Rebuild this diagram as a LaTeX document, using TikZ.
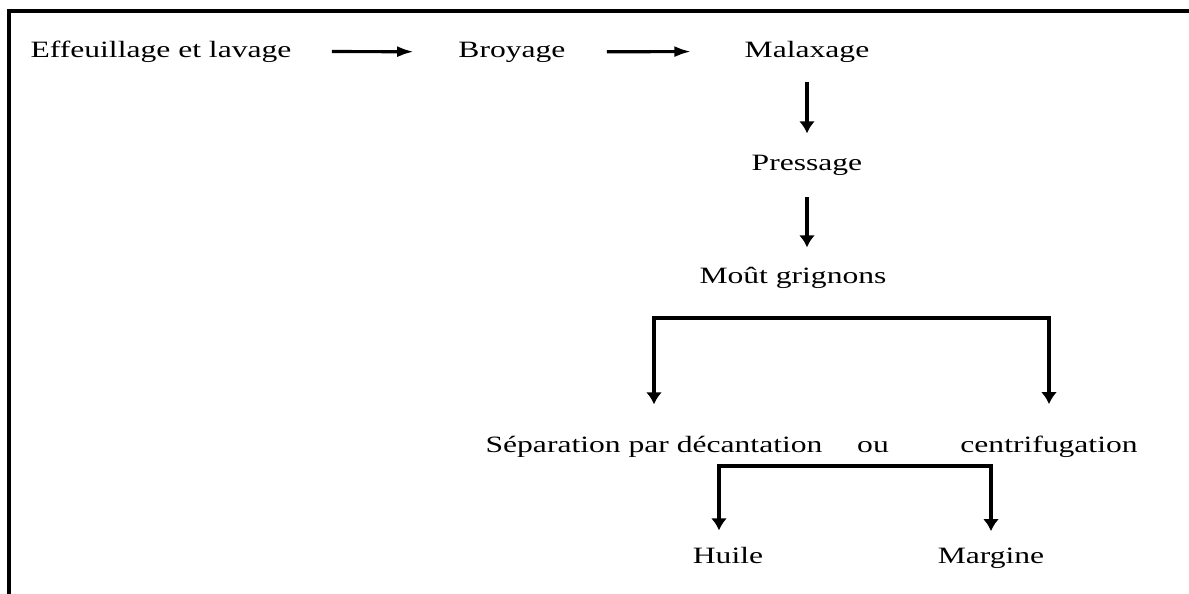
\documentclass[tikz,border=0pt]{standalone}
\usepackage{fontspec}
\setmainfont{Liberation Serif}[FakeStretch=1.35]
\usetikzlibrary{arrows.meta}

\begin{document}
\begin{tikzpicture}[x=0.5pt,y=-0.5pt,
    stage/.style={inner sep=0pt,anchor=base,font=\fontsize{11.7}{14}\selectfont},
    harr/.style={line width=1.6pt,-{Latex[length=8.5pt,width=5.5pt]}},
    varr/.style={line width=1.6pt,-{Latex[length=6pt,width=8pt]}},
    frame/.style={line width=1.7pt}]
    \useasboundingbox (0,0) rectangle (1189,594);
      \draw[frame] (9,594) -- (9,11) -- (1189,11);
      \node[stage] (eff) at (161,57) {Effeuillage et lavage};
      \node[stage] (broy) at (512,57) {Broyage};
      \node[stage] (mal) at (807,57) {Malaxage};
      \node[stage] (press) at (807,170) {Pressage};
      \node[stage] (mout) at (793,283) {Moût grignons};
      \node[stage] (sep) at (654,452) {Séparation par décantation};
      \node[stage] (ou) at (873,452) {ou};
      \node[stage] (cent) at (1049,452) {centrifugation};
      \node[stage] (huile) at (728,563) {Huile};
      \node[stage] (marg) at (991,563) {Margine};
      \coordinate (split1) at (851,318);
      \coordinate (split2) at (854,466);
      \draw[harr,shorten <=20pt,shorten >=22pt] (eff) -- (broy);
      \draw[harr,shorten <=20.5pt,shorten >=26.5pt] (broy) -- (mal);
      \draw[varr,shorten <=10pt,shorten >=10.5pt] (mal.south) -- (press.north);
      \draw[varr,shorten <=11pt,shorten >=9.5pt] (press.south) -- (press.south |- mout.north);
      \draw[varr,shorten >=15.5pt] (split1) -| (sep.north);
      \draw[varr,shorten >=15.5pt] (split1) -| (cent.north);
      \draw[varr,shorten >=8pt] (split2) -| ([xshift=-4.5pt]huile.north);
      \draw[varr,shorten >=8pt] (split2) -| (marg.north);
  \end{tikzpicture}
\end{document}
